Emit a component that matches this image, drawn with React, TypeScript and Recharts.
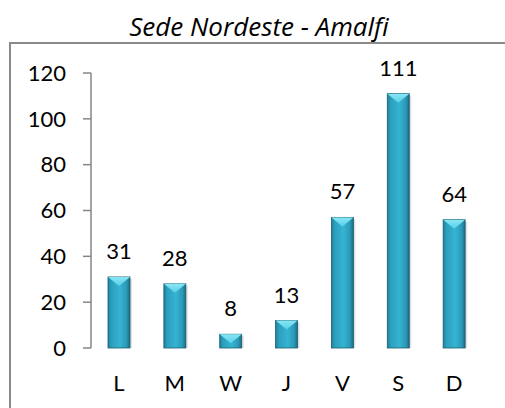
import React from 'react';
import { BarChart, Bar, XAxis, YAxis, LabelList } from 'recharts';

const days = ['L', 'M', 'W', 'J', 'V', 'S', 'D'];
const heights = [31, 28, 6, 12, 57, 111, 56];
const labels = ['31', '28', '8', '13', '57', '111', '64'];
const yTicks = [0, 20, 40, 60, 80, 100, 120];
const edgeTicks = [0, 1, 2, 3, 4, 5, 6, 7];

const data = days.map((d, i) => ({ day: d, value: heights[i], label: labels[i] }));

const FONT = 'Lato, "Open Sans", sans-serif';
const AXIS = '#868686';

const BevelBar = (props: any) => {
    const { x, y, width, height } = props;
    if (!height || height <= 0) return null;
    const tri = Math.min(9, height);
    return (
        <g>
            <rect x={x + 2} y={y + 2} width={width} height={height - 2} fill="rgba(0,0,0,0.12)" />
            <rect x={x} y={y} width={width} height={height} fill="url(#barGrad)" stroke="#1a5f72" strokeWidth={0.8} />
            <polygon
                points={`${x},${y} ${x + width},${y} ${x + width / 2},${y + tri}`}
                fill="url(#topGrad)"
            />
        </g>
    );
};

export default function App() {
    return (
        <div style={{ position: 'fixed', left: 0, top: 0, width: 505, height: 408, overflow: 'hidden', fontFamily: FONT, background: '#fff' }}>
            {/* chart frame, runs off the right and bottom edges */}
            <div
                style={{
                    position: 'absolute', left: 9, top: 42, width: 540, height: 420,
                    border: '2px solid #8a8a8a', boxSizing: 'border-box',
                }}
            />
            <div
                style={{
                    position: 'absolute', left: 8, width: 502, top: 11, textAlign: 'center',
                    fontStyle: 'italic', fontSize: 26, color: '#000', lineHeight: '30px',
                    fontFamily: '"Open Sans", sans-serif',
                }}
            >
                Sede Nordeste - Amalfi
            </div>
            <div style={{ position: 'absolute', left: 8, top: 8 }}>
                <BarChart
                    width={497}
                    height={400}
                    data={data}
                    margin={{ top: 65, right: 23, bottom: 30, left: 0 }}
                    barCategoryGap="30%"
                >
                    <defs>
                        <linearGradient id="barGrad" x1="0" y1="0" x2="1" y2="0">
                            <stop offset="0%" stopColor="#1f7f99" />
                            <stop offset="15%" stopColor="#2c9fbd" />
                            <stop offset="55%" stopColor="#36b3d3" />
                            <stop offset="85%" stopColor="#2a98b6" />
                            <stop offset="100%" stopColor="#1a6a80" />
                        </linearGradient>
                        <linearGradient id="topGrad" x1="0" y1="0" x2="0" y2="1">
                            <stop offset="0%" stopColor="#8ae6f4" />
                            <stop offset="100%" stopColor="#56d0e8" />
                        </linearGradient>
                    </defs>
                    <XAxis
                        xAxisId="edges"
                        type="number"
                        dataKey="value"
                        domain={[0, 7]}
                        ticks={edgeTicks}
                        allowDataOverflow
                        height={0}
                        axisLine={{ stroke: AXIS, strokeWidth: 1.5 }}
                        tickLine={{ stroke: AXIS, strokeWidth: 1.5 }}
                        tickSize={8}
                        tickFormatter={() => ''}
                    />
                    <XAxis
                        dataKey="day"
                        axisLine={false}
                        tickLine={false}
                        tickSize={0}
                        tickMargin={27}
                        height={30}
                        interval={0}
                        tick={{ fill: '#000', fontSize: 22, fontFamily: FONT }}
                    />
                    <YAxis
                        domain={[0, 120]}
                        ticks={yTicks}
                        width={83}
                        axisLine={{ stroke: AXIS, strokeWidth: 1.5 }}
                        tickLine={{ stroke: AXIS, strokeWidth: 1.5 }}
                        tickSize={8}
                        tickMargin={17}
                        tick={{ fill: '#000', fontSize: 22, fontFamily: FONT }}
                    />
                    <Bar dataKey="value" barSize={22} shape={<BevelBar />} isAnimationActive={false}>
                        <LabelList
                            dataKey="label"
                            position="top"
                            offset={18}
                            style={{ fill: '#000', fontSize: 22, fontFamily: FONT }}
                        />
                    </Bar>
                </BarChart>
            </div>
        </div>
    );
}
